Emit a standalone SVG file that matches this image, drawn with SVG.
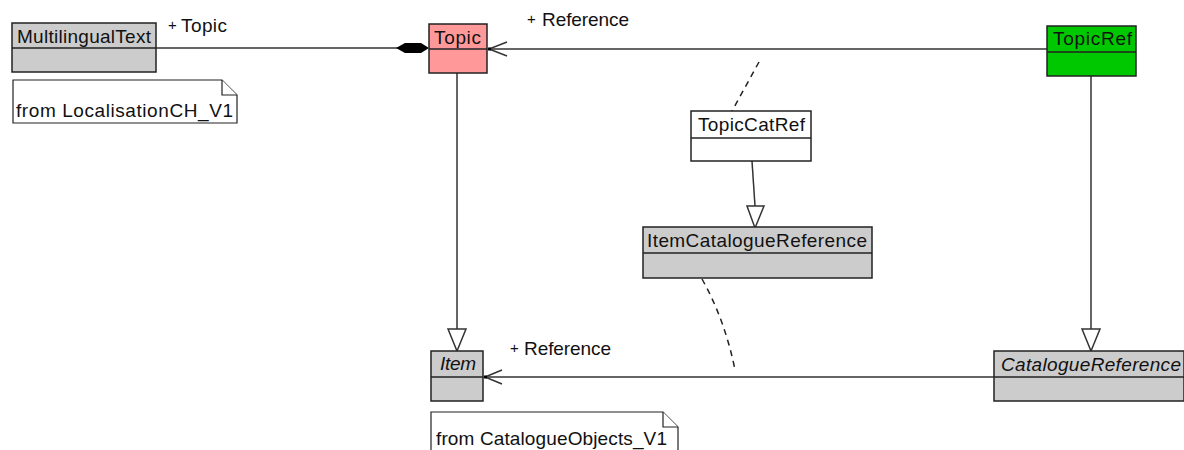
<svg xmlns="http://www.w3.org/2000/svg" width="1184" height="450" viewBox="0 0 1184 450">
<style>
.box{stroke:#222;stroke-width:1.5}
.grey{fill:#cccccc}
.t{font-family:"Liberation Sans",Arial,sans-serif;font-size:19px;fill:#111}
.it{font-style:italic}
.sm{font-family:"Liberation Sans",Arial,sans-serif;font-size:15px;fill:#111}
.ln{stroke:#333;stroke-width:1.5;fill:none}
.dash{stroke:#222;stroke-width:1.5;fill:none;stroke-dasharray:6,5}
.note{fill:#fff;stroke:#222;stroke-width:1.2}
</style>
<rect width="1184" height="450" fill="#fff"/>
<g id="connectors">
<line class="ln" x1="156" y1="48" x2="398" y2="48"/>
<polygon points="396,48 405,43 421,43 429,48 421,53 405,53" fill="#000"/>
<line class="ln" x1="488" y1="49" x2="1047" y2="49"/>
<polyline class="ln" points="507,42 489,49 507,56"/>
<rect x="488" y="47.5" width="3" height="3" fill="#000"/>
<line class="ln" x1="457" y1="73" x2="457" y2="329"/>
<polygon class="ln" points="448,329 466,329 457,351" fill="#fff"/>
<line class="ln" x1="1091" y1="76" x2="1091" y2="329"/>
<polygon class="ln" points="1082,329 1100,329 1091,351" fill="#fff"/>
<line class="ln" x1="485" y1="377" x2="994" y2="377"/>
<polyline class="ln" points="502,370 485,377 502,384"/>
<rect x="484" y="375.5" width="3" height="3" fill="#000"/>
<line class="ln" x1="752" y1="161" x2="755" y2="206"/>
<polygon class="ln" points="747,206 764,206 755,228" fill="#fff"/>
<line class="dash" x1="759" y1="62" x2="732" y2="111"/>
<path class="dash" d="M702,279 Q725,320 735,370"/>
</g>
<g id="MultilingualText">
<rect class="box grey" x="12" y="23" width="144" height="49"/>
<line class="box" x1="12" y1="48" x2="156" y2="48"/>
<text class="t" x="17" y="43" textLength="134">MultilingualText</text>
</g>
<g id="note1">
<path class="note" d="M13,80 H222 L237,95 V123 H13 Z"/>
<path class="note" d="M222,80 V95 H237" fill="none"/>
<text class="t" x="16" y="117" textLength="217">from LocalisationCH_V1</text>
</g>
<g id="label-topic">
<text class="sm" x="168" y="30">+</text>
<text class="t" x="181" y="32" textLength="46">Topic</text>
</g>
<g id="Topic">
<rect class="box" x="429" y="24" width="58" height="49" fill="#ff9999"/>
<line class="box" x1="429" y1="49" x2="487" y2="49"/>
<text class="t" x="434" y="44" textLength="47">Topic</text>
</g>
<g id="label-ref1">
<text class="sm" x="527" y="24">+</text>
<text class="t" x="542" y="26" textLength="87">Reference</text>
</g>
<g id="TopicRef">
<rect class="box" x="1047" y="26" width="89" height="50" fill="#00c800"/>
<line class="box" x1="1047" y1="52" x2="1136" y2="52"/>
<text class="t" x="1053" y="45" textLength="79">TopicRef</text>
</g>
<g id="TopicCatRef">
<rect class="box" x="691" y="111" width="120" height="50" fill="#fff"/>
<line class="box" x1="691" y1="138" x2="811" y2="138"/>
<text class="t" x="698" y="131" textLength="107">TopicCatRef</text>
</g>
<g id="ItemCatalogueReference">
<rect class="box grey" x="643" y="227" width="229" height="51"/>
<line class="box" x1="643" y1="253" x2="872" y2="253"/>
<text class="t" x="647" y="247" textLength="220">ItemCatalogueReference</text>
</g>
<g id="Item">
<rect class="box grey" x="431" y="351" width="52" height="50"/>
<line class="box" x1="431" y1="377" x2="483" y2="377"/>
<text class="t it" x="440" y="370" textLength="36">Item</text>
</g>
<g id="label-ref2">
<text class="sm" x="510" y="353">+</text>
<text class="t" x="524" y="355" textLength="87">Reference</text>
</g>
<g id="CatalogueReference">
<rect class="box grey" x="994" y="351" width="190" height="50"/>
<line class="box" x1="994" y1="377" x2="1184" y2="377"/>
<text class="t it" x="1001" y="371" textLength="180">CatalogueReference</text>
</g>
<g id="note2">
<path class="note" d="M431,460 V412 H663 L678,427 V460"/>
<path class="note" d="M663,412 V427 H678" fill="none"/>
<text class="t" x="436" y="445" textLength="231">from CatalogueObjects_V1</text>
</g>
</svg>
